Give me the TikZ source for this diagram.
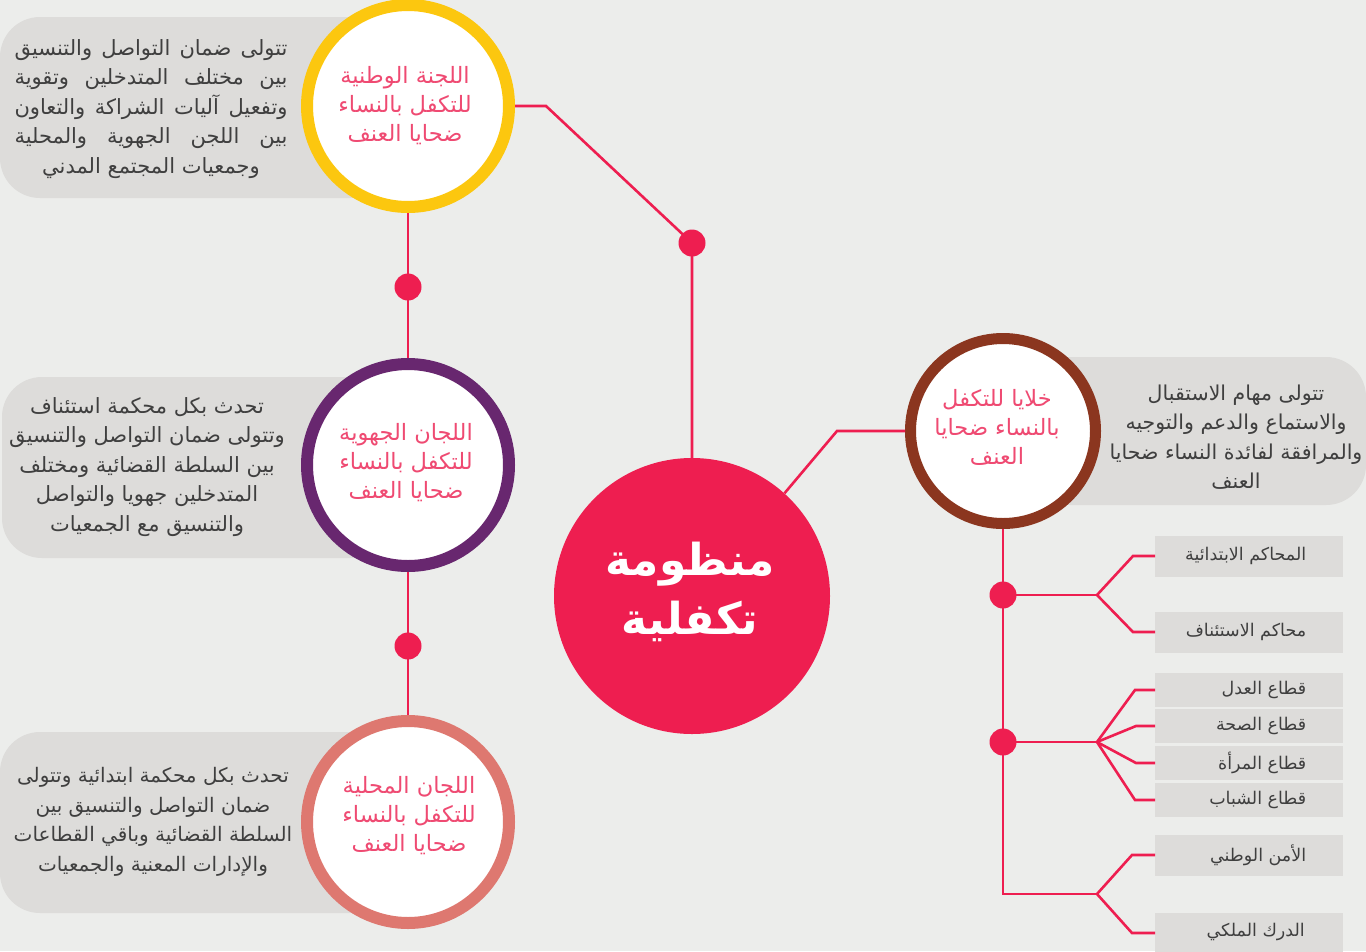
\documentclass[tikz,border=0pt]{standalone}
\usepackage{fontspec}
\newfontfamily\arabicfont[Script=Arabic]{DejaVu Sans}
\TeXXeTstate=1
\newcommand{\AR}[1]{\beginR #1\endR}
\newcommand{\ARJ}[1]{\hbox to 273pt{\beginR #1\endR}}
\definecolor{bgc}{HTML}{ECEDEB}
\definecolor{boxc}{HTML}{DDDCDA}
\definecolor{mainc}{HTML}{EE1E50}
\definecolor{yelc}{HTML}{FCC70F}
\definecolor{purc}{HTML}{68276F}
\definecolor{salc}{HTML}{DE7870}
\definecolor{brnc}{HTML}{8B361F}
\definecolor{ttlc}{HTML}{EF4A72}
\definecolor{txtc}{HTML}{3F3F3F}
\begin{document}
\begin{tikzpicture}[x=1pt,y=-1pt,
  ring/.style={circle, fill=white, line width=12pt, inner sep=0pt, minimum size=202pt},
  ttl/.style={text=ttlc, align=center, font=\arabicfont\fontsize{22.5}{29}\selectfont},
  desc/.style={text=txtc, align=center, font=\arabicfont\fontsize{21}{29.5}\selectfont},
  conn/.style={draw=mainc, line width=2.6pt},
  dotn/.style={circle, fill=mainc, inner sep=0pt, minimum size=27pt},
  item/.style={fill=boxc, inner sep=0pt, minimum width=188pt},
  itemtxt/.style={text=txtc, anchor=east, inner sep=0pt, font=\arabicfont\fontsize{17.5}{20}\selectfont},
  descbox/.style={fill=boxc, rounded corners=40pt}]
\fill[bgc] (0,0) rectangle (1366,951);
\useasboundingbox (0,0) rectangle (1366,951);

% description boxes
\fill[descbox] (0,17) rectangle (390,198);
\fill[descbox] (2,377) rectangle (390,558);
\fill[descbox] (0,732) rectangle (390,913);
\fill[descbox] (1030,357) rectangle (1366,505);

% coordinates for bends
\coordinate (b1) at (546,106);
\coordinate (b2) at (837,431);
\coordinate (j3) at (1003,894);
\coordinate (br1) at (1097,595);
\coordinate (br2) at (1097,742);
\coordinate (br3) at (1097,894);

% dots
\node[dotn] (d1) at (692,243) {};
\node[dotn] (dA) at (408,287) {};
\node[dotn] (dB) at (408,646) {};
\node[dotn] (dR1) at (1003,595) {};
\node[dotn] (dR2) at (1003,742) {};

% circles
\node[circle, fill=mainc, inner sep=0pt, minimum size=276pt] (cen) at (692,596) {};
\node[ring, draw=yelc] (ctop) at (408,106) {};
\node[ring, draw=purc] (cmid) at (408,465) {};
\node[ring, draw=salc] (cbot) at (408,822) {};
\node[ring, draw=brnc, line width=11pt, minimum size=185pt] (crt) at (1003,431) {};

% connectors
\draw[conn] (ctop.east) -- (b1) -- (d1.center) -- (cen.north);
\draw[conn] (ctop.south) -- (dA.center) -- (cmid.north);
\draw[conn] (cmid.south) -- (dB.center) -- (cbot.north);
\draw[conn] (cen.48.5) -- (b2) -- (crt.west);
\draw[conn] (crt.south) -- (dR1.center) -- (dR2.center) -- (j3) -- (br3);
\draw[conn] (dR1.center) -- (br1);
\draw[conn] (dR2.center) -- (br2);

% list items
\node[item, minimum height=41pt, anchor=west] (i1) at (1155,556) {};
\node[item, minimum height=41pt, anchor=west] (i2) at (1155,632) {};
\node[item, minimum height=34pt, anchor=west] (i3) at (1155,690) {};
\node[item, minimum height=34pt, anchor=west] (i4) at (1155,726) {};
\node[item, minimum height=34pt, anchor=west] (i5) at (1155,763) {};
\node[item, minimum height=34pt, anchor=west] (i6) at (1155,800) {};
\node[item, minimum height=41pt, anchor=west] (i7) at (1155,855) {};
\node[item, minimum height=41pt, anchor=north west] (i8) at (1155,913) {};

\draw[conn] (br1) -- (1133,556) -- (i1.west);
\draw[conn] (br1) -- (1133,632) -- (i2.west);
\draw[conn] (br2) -- (1135,690) -- (i3.west);
\draw[conn] (br2) -- (1136,726) -- (i4.west);
\draw[conn] (br2) -- (1136,763) -- (i5.west);
\draw[conn] (br2) -- (1135,800) -- (i6.west);
\draw[conn] (br3) -- (1132,855) -- (i7.west);
\draw[conn] (br3) -- (1132,933) -- (1155,933);

\node[itemtxt] (t1) at ([xshift=-37pt]i1.east) {\AR{المحاكم الابتدائية}};
\node[itemtxt] (t2) at ([xshift=-37pt]i2.east) {\AR{محاكم الاستئناف}};
\node[itemtxt] (t3) at ([xshift=-37pt]i3.east) {\AR{قطاع العدل}};
\node[itemtxt] (t4) at ([xshift=-37pt]i4.east) {\AR{قطاع الصحة}};
\node[itemtxt] (t5) at ([xshift=-37pt]i5.east) {\AR{قطاع المرأة}};
\node[itemtxt] (t6) at ([xshift=-37pt]i6.east) {\AR{قطاع الشباب}};
\node[itemtxt] (t7) at ([xshift=-37pt]i7.east) {\AR{الأمن الوطني}};
\node[itemtxt] (t8) at (1305,932) {\AR{الدرك الملكي}};

% circle titles
\node[ttl] (tt1) at (405,106) {\AR{اللجنة الوطنية}\\\AR{للتكفل بالنساء}\\\AR{ضحايا العنف}};
\node[ttl] (tt2) at (406,463) {\AR{اللجان الجهوية}\\\AR{للتكفل بالنساء}\\\AR{ضحايا العنف}};
\node[ttl] (tt3) at (409,816) {\AR{اللجان المحلية}\\\AR{للتكفل بالنساء}\\\AR{ضحايا العنف}};
\node[ttl] (tt4) at (997,427) {\AR{خلايا للتكفل}\\\AR{بالنساء ضحايا}\\\AR{العنف}};

\node[text=white, align=center, font=\arabicfont\bfseries\fontsize{44}{59}\selectfont] (ct) at (690,592) {\AR{منظومة}\\\AR{تكفلية}};

% descriptions
\node[desc] (x1) at (151,109) {\ARJ{تتولى ضمان التواصل والتنسيق}\\\ARJ{بين مختلف المتدخلين وتقوية}\\\ARJ{وتفعيل آليات الشراكة والتعاون}\\\ARJ{بين اللجن الجهوية والمحلية}\\\AR{وجمعيات المجتمع المدني}};
\node[desc] (x2) at (147,467) {\AR{تحدث بكل محكمة استئناف}\\\AR{وتتولى ضمان التواصل والتنسيق}\\\AR{بين السلطة القضائية ومختلف}\\\AR{المتدخلين جهويا والتواصل}\\\AR{والتنسيق مع الجمعيات}};
\node[desc, font=\arabicfont\fontsize{20}{29.5}\selectfont] (x3) at (153,822) {\AR{تحدث بكل محكمة ابتدائية وتتولى}\\\AR{ضمان التواصل والتنسيق بين}\\\AR{السلطة القضائية وباقي القطاعات}\\\AR{والإدارات المعنية والجمعيات}};
\node[desc, font=\arabicfont\fontsize{20.5}{29.5}\selectfont] (x4) at (1236,437) {\AR{تتولى مهام الاستقبال}\\\AR{والاستماع والدعم والتوجيه}\\\AR{والمرافقة لفائدة النساء ضحايا}\\\AR{العنف}};
\end{tikzpicture}
\end{document}
